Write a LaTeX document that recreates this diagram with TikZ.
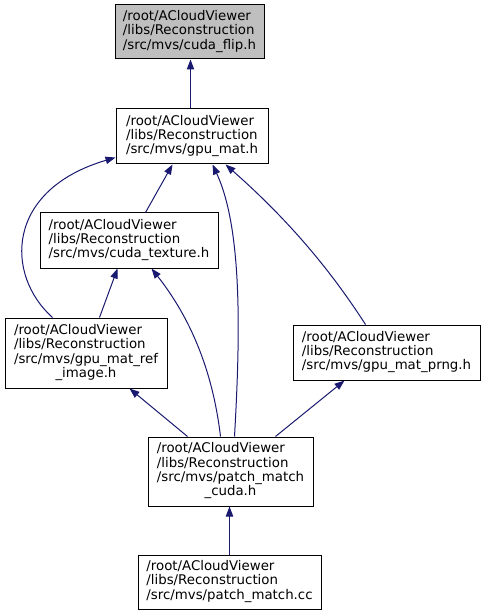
\documentclass[tikz,border=0pt]{standalone}
\usepackage{fontspec}
\setmainfont{DejaVu Sans}
\usetikzlibrary{arrows.meta,calc}
\definecolor{edgeblue}{HTML}{191970}
\definecolor{hlgrey}{HTML}{BFBFBF}
\begin{document}
\begin{tikzpicture}[x=0.75pt,y=-0.75pt,
  box/.style={draw=black,line width=0.75pt,fill=white,inner sep=0pt,
    font=\fontsize{10}{10.5}\selectfont},
  hl/.style={fill=hlgrey},
  dep/.style={draw=edgeblue,line width=0.75pt,
    -{Triangle[length=7.5pt,width=5.5pt]}}]
\useasboundingbox (0,0) rectangle (485,616);

\node[box,hl,minimum width=111.75pt,minimum height=40.5pt] (A) at (189.5,32)
  {\begin{tabular}{@{}l@{}}/root/ACloudViewer\\/libs/Reconstruction\\/src/mvs/cuda\_flip.h\end{tabular}};
\node[box,minimum width=114pt,minimum height=41.25pt] (B) at (192,136.5)
  {\begin{tabular}{@{}l@{}}/root/ACloudViewer\\/libs/Reconstruction\\/src/mvs/gpu\_mat.h\end{tabular}};
\node[box,minimum width=133.5pt,minimum height=41.25pt] (C) at (129,240.5)
  {\begin{tabular}{@{}l@{}}/root/ACloudViewer\\/libs/Reconstruction\\/src/mvs/cuda\_texture.h\end{tabular}};
\node[box,minimum width=121.5pt,minimum height=52.5pt] (D) at (86,353)
  {\begin{tabular}{@{}l@{}}/root/ACloudViewer\\/libs/Reconstruction\\/src/mvs/gpu\_mat\_ref\\\multicolumn{1}{@{}c@{}}{\_image.h}\end{tabular}};
\node[box,minimum width=140.25pt,minimum height=41.25pt] (E) at (386.5,352.5)
  {\begin{tabular}{@{}l@{}}/root/ACloudViewer\\/libs/Reconstruction\\/src/mvs/gpu\_mat\_prng.h\end{tabular}};
\node[box,minimum width=123.75pt,minimum height=51.75pt] (F) at (230.5,471.5)
  {\begin{tabular}{@{}l@{}}/root/ACloudViewer\\/libs/Reconstruction\\/src/mvs/patch\_match\\\multicolumn{1}{@{}c@{}}{\_cuda.h}\end{tabular}};
\node[box,minimum width=137.25pt,minimum height=40.5pt] (G) at (229.5,582)
  {\begin{tabular}{@{}l@{}}/root/ACloudViewer\\/libs/Reconstruction\\/src/mvs/patch\_match.cc\end{tabular}};

\draw[dep] ($(B.north west)+(75,0)$) -- ($(A.south west)+(76,0)$);
\draw[dep] ($(C.north west)+(106,0)$) -- ($(B.south west)+(57,0)$);
\draw[dep] ($(D.north west)+(48,0)$) .. controls (5,275) and (5,190) .. ($(B.south west)+(0,-7)$);
\draw[dep] ($(D.north west)+(95,0)$) -- ($(C.south west)+(78,0)$);
\draw[dep] ($(F.north west)+(40,0)$) -- ($(D.south west)+(125,0)$);
\draw[dep] ($(F.north west)+(128,0)$) -- ($(E.south west)+(52,0)$);
\draw[dep] ($(F.north west)+(73,0)$) .. controls (215,390) and (200,330) .. ($(C.south west)+(112,0)$);
\draw[dep] ($(F.north west)+(87,0)$) .. controls (240,340) and (243,230) .. ($(B.south west)+(97,0)$);
\draw[dep] ($(E.north west)+(73,0)$) .. controls (340,285) and (300,230) .. ($(B.south west)+(110,0)$);
\draw[dep] ($(G.north west)+(92,0)$) -- ($(F.south west)+(82,0)$);
\end{tikzpicture}
\end{document}
